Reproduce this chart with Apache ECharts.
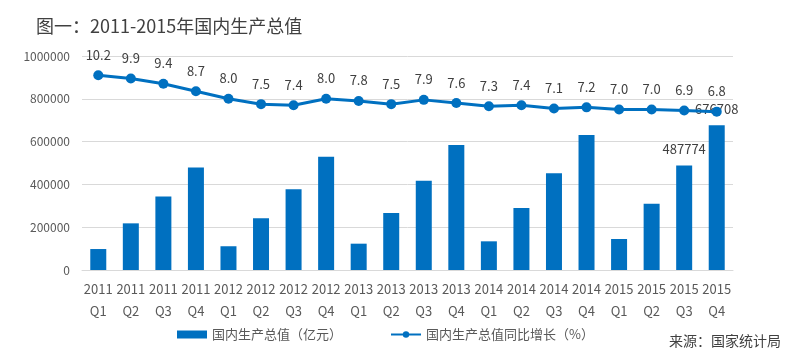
<!DOCTYPE html>
<html>
<head>
<meta charset="utf-8">
<script src="https://cdn.jsdelivr.net/npm/echarts@6/dist/echarts.min.js"></script>
<style>html,body{margin:0;padding:0;background:#fff;}#c{width:800px;height:356px;}</style>
</head>
<body>
<div id="c"></div>
<script>
const years = ['2011','2011','2011','2011','2012','2012','2012','2012','2013','2013','2013','2013','2014','2014','2014','2014','2015','2015','2015','2015'];
const quarters = ['Q1','Q2','Q3','Q4','Q1','Q2','Q3','Q4','Q1','Q2','Q3','Q4','Q1','Q2','Q3','Q4','Q1','Q2','Q3','Q4'];
const gdp = [98000,218000,343000,479000,111000,242000,377000,529000,123000,266000,417000,584000,134000,290000,452000,631000,145000,310000,487774,676708];
const growth = [10.2,9.9,9.4,8.7,8.0,7.5,7.4,8.0,7.8,7.5,7.9,7.6,7.3,7.4,7.1,7.2,7.0,7.0,6.9,6.8];
const yTicks = [0,200000,400000,600000,800000,1000000];
const labeledBars = [18,19];

const FONT = '"Microsoft YaHei","Noto Sans CJK SC",sans-serif';
const BLUE = '#0070C0';
const categories = years.map((y,i)=>y+'\n'+quarters[i]);

const chart = echarts.init(document.getElementById('c'), null, {renderer:'canvas'});
chart.setOption({
  animation:false,
  textStyle:{fontFamily:FONT},
  title:[{
    text:'图一：2011-2015年国内生产总值',
    left:31, top:12,
    textStyle:{fontSize:18, fontWeight:'normal', color:'#404040', fontFamily:FONT}
  },{
    text:'来源：国家统计局',
    left:664, top:329,
    textStyle:{fontSize:14, fontWeight:'normal', color:'#404040', fontFamily:FONT}
  }],
  legend:{
    left:172, top:323, itemGap:48,
    textStyle:{fontSize:13, color:'#595959', fontFamily:FONT},
    data:[
      {name:'国内生产总值（亿元）', icon:'rect', itemStyle:{color:BLUE}},
      {name:'国内生产总值同比增长（%）'}
    ],
    itemWidth:30, itemHeight:8
  },
  grid:{left:82, right:67, top:56, bottom:86, containLabel:false},
  xAxis:{
    type:'category', data:categories,
    axisTick:{show:false},
    axisLine:{lineStyle:{color:'#d9d9d9'}},
    axisLabel:{interval:0, fontSize:13, color:'#595959', lineHeight:22, margin:8, fontFamily:FONT}
  },
  yAxis:[{
    type:'value', min:yTicks[0], max:yTicks[yTicks.length-1], interval:yTicks[1]-yTicks[0],
    axisLine:{show:false}, axisTick:{show:false},
    splitLine:{lineStyle:{color:'#d9d9d9'}},
    axisLabel:{fontSize:12, color:'#595959', margin:12, fontFamily:FONT, formatter:v=>String(v)}
  },{
    type:'value', min:-8, max:12, show:false, splitLine:{show:false}
  }],
  series:[{
    name:'国内生产总值（亿元）', type:'bar', barWidth:16,
    itemStyle:{color:BLUE},
    data:gdp.map((v,i)=>({value:v, label:{show:labeledBars.includes(i)}})),
    label:{position:'top', distance:10, fontSize:13, color:'#404040', fontFamily:FONT}
  },{
    name:'国内生产总值同比增长（%）', type:'line', yAxisIndex:1,
    data:growth,
    symbol:'circle', symbolSize:10,
    lineStyle:{color:BLUE, width:3},
    itemStyle:{color:BLUE},
    label:{show:true, position:'top', distance:9, fontSize:13, color:'#404040', fontFamily:FONT,
      formatter:p=>p.value.toFixed(1)}
  }]
});
</script>
</body>
</html>
